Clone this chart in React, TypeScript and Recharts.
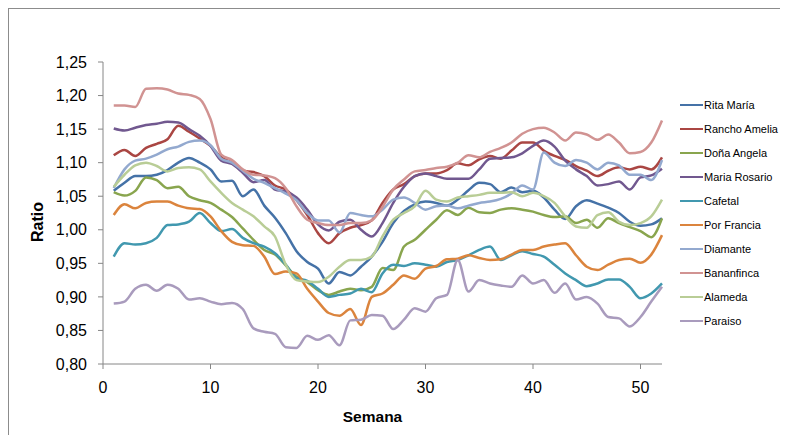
import { LineChart, Line, XAxis, YAxis, Legend } from "recharts"

const weeks = [
  1, 2, 3, 4, 5, 6, 7, 8, 9, 10, 11, 12, 13, 14, 15, 16, 17, 18, 19, 20, 21, 22, 23, 24, 25, 26,
  27, 28, 29, 30, 31, 32, 33, 34, 35, 36, 37, 38, 39, 40, 41, 42, 43, 44, 45, 46, 47, 48, 49, 50, 51, 52,
]

const seriesNames = [
  "Rita María",
  "Rancho Amelia",
  "Doña Angela",
  "Maria Rosario",
  "Cafetal",
  "Por Francia",
  "Diamante",
  "Bananfinca",
  "Alameda",
  "Paraiso",
]

const seriesColors = [
  "#4572A7",
  "#AA4643",
  "#89A54E",
  "#71588F",
  "#4198AF",
  "#DB843D",
  "#93A9CF",
  "#D19392",
  "#B9CD96",
  "#A99BBD",
]

const ritaMaria = [
  1.058, 1.07, 1.08, 1.08, 1.082, 1.089, 1.1, 1.107, 1.1, 1.09, 1.072, 1.073, 1.05, 1.06, 1.036, 1.018,
  0.995, 0.968, 0.952, 0.942, 0.92, 0.937, 0.932, 0.945, 0.96, 0.982, 1.01, 1.028, 1.038, 1.042, 1.04,
  1.036, 1.045, 1.059, 1.07, 1.068, 1.056, 1.063, 1.056, 1.058, 1.048, 1.03, 1.016, 1.035, 1.044, 1.039,
  1.033, 1.025, 1.012, 1.006, 1.008, 1.017,
]

const ranchoAmelia = [
  1.111, 1.119, 1.11, 1.122, 1.128, 1.135, 1.155, 1.146, 1.136, 1.125, 1.108, 1.1, 1.088, 1.086, 1.08,
  1.066, 1.06, 1.044, 1.022, 0.995, 0.98, 0.995, 1.003, 1.007, 1.014, 1.04, 1.06, 1.068, 1.08, 1.084,
  1.084, 1.089, 1.099, 1.096, 1.105, 1.11, 1.106, 1.118, 1.13, 1.13, 1.118, 1.11, 1.104, 1.095, 1.088,
  1.08, 1.088, 1.093, 1.09, 1.094, 1.09, 1.108,
]

const donaAngela = [
  1.056, 1.051, 1.058, 1.078, 1.074, 1.062, 1.064, 1.05, 1.044, 1.04, 1.03, 1.019, 1.002, 0.985, 0.97,
  0.963, 0.947, 0.93, 0.922, 0.91, 0.903, 0.908, 0.912, 0.91, 0.915, 0.943, 0.94, 0.975, 0.985, 1.0,
  1.015, 1.029, 1.022, 1.033, 1.026, 1.025, 1.03, 1.032, 1.03, 1.027, 1.022, 1.019, 1.02, 1.01, 1.015,
  1.003, 1.017, 1.01, 1.004, 0.998, 0.989, 1.017,
]

const mariaRosario = [
  1.151, 1.148, 1.152, 1.156, 1.158, 1.161, 1.16, 1.15, 1.14, 1.125, 1.103, 1.098, 1.085, 1.071, 1.074,
  1.06, 1.057, 1.048, 1.03, 1.008, 0.999, 1.012, 1.015, 1.0, 0.99, 1.01, 1.04, 1.064, 1.08, 1.084, 1.08,
  1.076, 1.076, 1.076, 1.09, 1.106, 1.107, 1.108, 1.114, 1.125, 1.133, 1.124, 1.103, 1.09, 1.08, 1.066,
  1.068, 1.072, 1.06, 1.078, 1.081, 1.091,
]

const cafetal = [
  0.96, 0.98, 0.978, 0.98, 0.988, 1.007, 1.008, 1.012, 1.025, 1.01, 0.998, 1.001, 0.988, 0.98, 0.975,
  0.965, 0.948, 0.928, 0.924, 0.912, 0.9, 0.903, 0.905, 0.912, 0.907, 0.935, 0.948, 0.946, 0.95, 0.948,
  0.945, 0.952, 0.955, 0.962, 0.97, 0.975, 0.955, 0.962, 0.968, 0.964, 0.96, 0.948, 0.935, 0.925, 0.916,
  0.92, 0.926, 0.926, 0.915, 0.898, 0.905, 0.92,
]

const porFrancia = [
  1.022, 1.038, 1.032, 1.04, 1.042, 1.042, 1.036, 1.032, 1.031, 1.02, 0.998, 0.982, 0.977, 0.976, 0.96,
  0.934, 0.938, 0.935, 0.912, 0.893, 0.876, 0.872, 0.882, 0.858, 0.9, 0.905, 0.918, 0.932, 0.927, 0.942,
  0.946, 0.956, 0.957, 0.962, 0.958, 0.955, 0.956, 0.963, 0.97, 0.97, 0.975, 0.978, 0.98, 0.962, 0.945,
  0.94, 0.948, 0.955, 0.957, 0.951, 0.963, 0.992,
]

const diamante = [
  1.062, 1.09, 1.103, 1.106, 1.112, 1.12, 1.124, 1.131, 1.133, 1.126, 1.106, 1.1, 1.088, 1.076, 1.07,
  1.062, 1.054, 1.044, 1.025, 1.014, 1.014, 0.996, 1.025, 1.022, 1.02, 1.03, 1.045, 1.048, 1.04, 1.03,
  1.035, 1.036, 1.032, 1.036, 1.04, 1.042, 1.046, 1.054, 1.066, 1.06, 1.115, 1.1, 1.095, 1.104, 1.1, 1.09,
  1.1, 1.096, 1.082, 1.082, 1.074, 1.104,
]

const bananfinca = [
  1.185, 1.185, 1.183, 1.21, 1.211, 1.209, 1.203, 1.201, 1.195, 1.165, 1.112, 1.104, 1.09, 1.082, 1.081,
  1.077, 1.062, 1.035, 1.015, 1.01, 1.007, 1.007, 1.01, 1.01, 1.014, 1.034, 1.06, 1.075, 1.087, 1.089,
  1.092, 1.094, 1.1, 1.111, 1.108, 1.116, 1.122, 1.13, 1.143, 1.15, 1.152, 1.145, 1.133, 1.145, 1.142,
  1.134, 1.142, 1.13, 1.114, 1.116, 1.13, 1.163,
]

const alameda = [
  1.064, 1.082, 1.096, 1.1, 1.095, 1.087, 1.092, 1.093, 1.09, 1.072, 1.055, 1.04, 1.03, 1.02, 1.005, 0.99,
  0.948, 0.925, 0.923, 0.922, 0.93, 0.945, 0.955, 0.955, 0.96, 0.99, 1.015, 1.025, 1.035, 1.058, 1.045,
  1.042, 1.048, 1.05, 1.052, 1.055, 1.055, 1.056, 1.05, 1.055, 1.05, 1.04, 1.02, 1.005, 1.003, 1.022,
  1.026, 1.012, 1.007, 1.01, 1.02, 1.045,
]

const paraiso = [
  0.89, 0.893, 0.912, 0.918, 0.909, 0.918, 0.912, 0.896, 0.898, 0.893, 0.889, 0.891, 0.882, 0.853, 0.848,
  0.845, 0.825, 0.824, 0.842, 0.836, 0.843, 0.828, 0.865, 0.866, 0.873, 0.872, 0.852, 0.866, 0.883, 0.878,
  0.898, 0.903, 0.955, 0.908, 0.925, 0.92, 0.917, 0.915, 0.932, 0.92, 0.925, 0.906, 0.92, 0.896, 0.9, 0.89,
  0.87, 0.868, 0.856, 0.87, 0.893, 0.915,
]

const seriesValues = [
  ritaMaria,
  ranchoAmelia,
  donaAngela,
  mariaRosario,
  cafetal,
  porFrancia,
  diamante,
  bananfinca,
  alameda,
  paraiso,
]

const xTicks = [0, 10, 20, 30, 40, 50]
const yTicks = [0.8, 0.85, 0.9, 0.95, 1.0, 1.05, 1.1, 1.15, 1.2, 1.25]

const data = weeks.map((week, i) => {
  const row: Record<string, number> = { week }
  seriesValues.forEach((values, s) => {
    row["s" + s] = values[i]
  })
  return row
})

const axisColor = "#868686"
const tickStyle = { fill: "#000", fontSize: 16 }
const formatRatio = (v: number) => v.toFixed(2).replace(".", ",")

const LegendList = () => (
  <div style={{ fontSize: 11, color: "#000" }}>
    {seriesNames.map((name, i) => (
      <div key={name} style={{ height: 24, display: "flex", alignItems: "center" }}>
        <svg width={23} height={4} style={{ marginRight: 1 }}>
          <line x1={0} y1={2} x2={23} y2={2} stroke={seriesColors[i]} strokeWidth={2} />
        </svg>
        <span>{name}</span>
      </div>
    ))}
  </div>
)

export default function App() {
  return (
    <div
      style={{
        width: 780,
        height: 427,
        borderTop: "1px solid #8c8c8c",
        borderLeft: "1px solid #8c8c8c",
        fontFamily: "'Liberation Sans', Arial, sans-serif",
        overflow: "hidden",
      }}
    >
      <LineChart width={779} height={426} data={data} margin={{ top: 53, right: 126, left: 8, bottom: 31 }}>
        <XAxis
          dataKey="week"
          type="number"
          domain={[0, 52]}
          ticks={xTicks}
          interval={0}
          height={40}
          stroke={axisColor}
          tickSize={5}
          tickMargin={13}
          tick={tickStyle}
          label={{
            content: (props: any) => {
              const vb = props.viewBox
              return (
                <text
                  x={vb.x + vb.width / 2 - 10}
                  y={vb.y + 58}
                  textAnchor="middle"
                  fontSize={15.5}
                  fontWeight="bold"
                  fill="#000"
                >
                  Semana
                </text>
              )
            },
          }}
        />
        <YAxis
          type="number"
          domain={[0.8, 1.25]}
          ticks={yTicks}
          interval={0}
          width={86}
          stroke={axisColor}
          tickSize={5}
          tickMargin={11}
          tick={tickStyle}
          tickFormatter={formatRatio}
          label={{
            content: (props: any) => {
              const vb = props.viewBox
              const cx = 34
              const cy = vb.y + vb.height / 2 + 9
              return (
                <text
                  x={cx}
                  y={cy}
                  transform={`rotate(-90, ${cx}, ${cy})`}
                  textAnchor="middle"
                  fontSize={16}
                  fontWeight="bold"
                  fill="#000"
                >
                  Ratio
                </text>
              )
            },
          }}
        />
        <Legend
          layout="vertical"
          align="center"
          verticalAlign="middle"
          content={<LegendList />}
          wrapperStyle={{ left: 671, top: 84, width: 110 }}
        />
        {seriesNames.map((name, i) => (
          <Line
            key={name}
            dataKey={"s" + i}
            name={name}
            type="monotone"
            stroke={seriesColors[i]}
            strokeWidth={2.5}
            dot={false}
            activeDot={false}
            isAnimationActive={false}
          />
        ))}
      </LineChart>
    </div>
  )
}
